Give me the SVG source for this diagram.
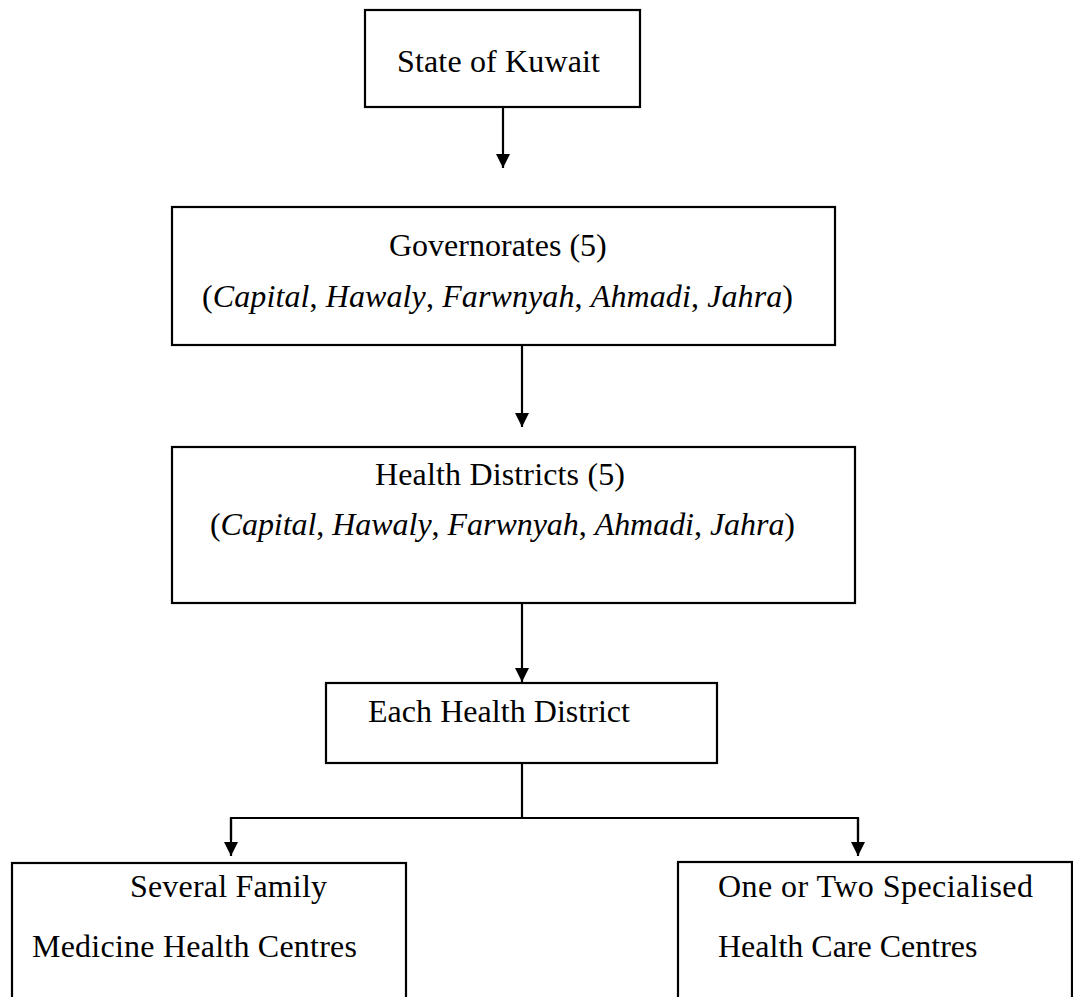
<svg xmlns="http://www.w3.org/2000/svg" width="1073" height="997" viewBox="0 0 1073 997">
<defs>
<marker id="arr" markerUnits="userSpaceOnUse" markerWidth="14" markerHeight="16" refX="14" refY="7" orient="auto" viewBox="0 0 14 14">
<path d="M0,0 L14,7 L0,14 Z" fill="#000"/>
</marker>
<style>
.box{fill:#fff;stroke:#000;stroke-width:2.2}
.t{font-family:"Liberation Serif","Times New Roman",serif;font-size:32px;fill:#000}
.i{font-style:italic}
.ln{fill:none;stroke:#000;stroke-width:2.2}
</style>
</defs>
<rect width="1073" height="997" fill="#fff"/>
<g id="connectors">
<line class="ln" x1="503" y1="107" x2="503" y2="168" marker-end="url(#arr)"/>
<line class="ln" x1="522" y1="345" x2="522" y2="427" marker-end="url(#arr)"/>
<line class="ln" x1="522" y1="603" x2="522" y2="682" marker-end="url(#arr)"/>
<polyline class="ln" points="522,763 522,818"/>
<polyline class="ln" points="231,840 231,818 858,818 858,840"/>
<line class="ln" x1="231" y1="818" x2="231" y2="856" marker-end="url(#arr)"/>
<line class="ln" x1="858" y1="818" x2="858" y2="856" marker-end="url(#arr)"/>
</g>
<g id="state">
<rect class="box" x="365" y="10" width="275" height="97"/>
<text class="t" x="397" y="72" textLength="203">State of Kuwait</text>
</g>
<g id="governorates">
<rect class="box" x="172" y="207" width="663" height="138"/>
<text class="t" x="389" y="256">Governorates (5)</text>
<text class="t" x="202" y="307" textLength="591">(<tspan class="i">Capital</tspan>, <tspan class="i">Hawaly</tspan>, <tspan class="i">Farwnyah</tspan>, <tspan class="i">Ahmadi</tspan>, <tspan class="i">Jahra</tspan>)</text>
</g>
<g id="health-districts">
<rect class="box" x="172" y="447" width="683" height="156"/>
<text class="t" x="375" y="485" textLength="250">Health Districts (5)</text>
<text class="t" x="210" y="535" textLength="585">(<tspan class="i">Capital</tspan>, <tspan class="i">Hawaly</tspan>, <tspan class="i">Farwnyah</tspan>, <tspan class="i">Ahmadi</tspan>, <tspan class="i">Jahra</tspan>)</text>
</g>
<g id="each-district">
<rect class="box" x="326" y="683" width="391" height="80"/>
<text class="t" x="368" y="722" textLength="262">Each Health District</text>
</g>
<g id="family-centres">
<rect class="box" x="12" y="863" width="394" height="150"/>
<text class="t" x="130" y="897" textLength="197">Several Family</text>
<text class="t" x="32" y="957" textLength="325">Medicine Health Centres</text>
</g>
<g id="specialised-centres">
<rect class="box" x="678" y="862" width="394" height="150"/>
<text class="t" x="718" y="897" textLength="315">One or Two Specialised</text>
<text class="t" x="718" y="957">Health Care Centres</text>
</g>
</svg>
